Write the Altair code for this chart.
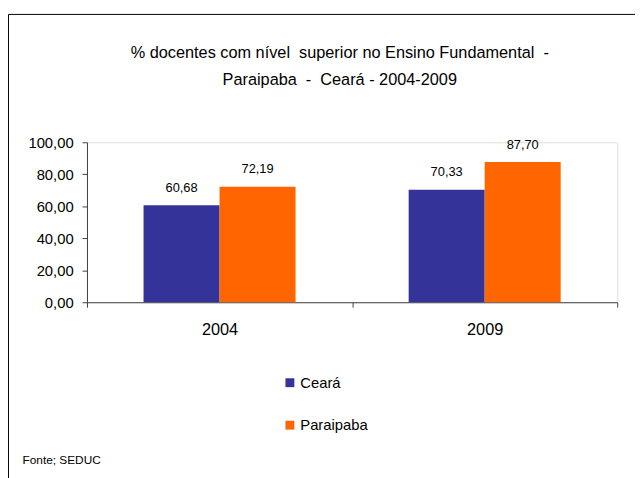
import altair as alt
import pandas as pd

# ---- data ----
years = ["2004", "2009"]
series = ["Ceará", "Paraipaba"]
ceara_values = [60.68, 70.33]
paraipaba_values = [72.19, 87.70]
colors = ["#333399", "#FF6600"]
y_ticks = [0, 20, 40, 60, 80, 100]
NB = "\u00a0"
title_lines = ["% docentes com nível" + NB + NB + "superior no Ensino Fundamental" + NB + NB + "-",
               "Paraipaba" + NB + NB + "-" + NB + NB + "Ceará - 2004-2009"]
source_note = "Fonte; SEDUC"

rows = []
for i, yr in enumerate(years):
    rows.append({"ano": yr, "serie": series[0], "valor": ceara_values[i]})
    rows.append({"ano": yr, "serie": series[1], "valor": paraipaba_values[i]})
df = pd.DataFrame(rows)

FONT = "Liberation Sans, Arial, sans-serif"
AXIS_COLOR = "#404040"

base = alt.Chart(df)

x_enc = alt.X("ano:N", title=None,
              scale=alt.Scale(paddingInner=0, paddingOuter=0),
              axis=alt.Axis(labelAngle=0, tickBand="extent", tickSize=5,
                            labelPadding=15, labelFont=FONT, labelFontSize=16.5,
                            labelColor="black", domainColor=AXIS_COLOR,
                            tickColor=AXIS_COLOR, grid=False))
xo_enc = alt.XOffset("serie:N", scale=alt.Scale(paddingInner=0, paddingOuter=0.744))
y_enc = alt.Y("valor:Q", title=None,
              scale=alt.Scale(domain=[0, 100], nice=False, zero=True),
              axis=alt.Axis(values=y_ticks, tickSize=5, labelPadding=9,
                            labelOverlap=False,
                            labelExpr="replace(format(datum.value, '.2f'), '.', ',')",
                            labelFont=FONT, labelFontSize=15, labelColor="black",
                            domainColor=AXIS_COLOR, tickColor=AXIS_COLOR, grid=False))

bars = base.mark_bar().encode(
    x=x_enc,
    xOffset=xo_enc,
    y=y_enc,
    color=alt.Color("serie:N", title=None,
                    scale=alt.Scale(domain=series, range=colors),
                    legend=alt.Legend(orient="none", legendX=198, legendY=236,
                                      direction="vertical", symbolType="square",
                                      symbolSize=81, symbolStrokeWidth=0,
                                      labelFont=FONT, labelFontSize=15,
                                      labelColor="black", labelOffset=3,
                                      rowPadding=27, padding=0)),
)

labels = base.transform_calculate(
    rotulo="replace(format(datum.valor, '.2f'), '.', ',')"
).mark_text(baseline="alphabetic", dy=-13.5, font=FONT, fontSize=13, color="black").encode(
    x=x_enc,
    xOffset=xo_enc,
    y=y_enc,
    text="rotulo:N",
)

one = alt.Chart(pd.DataFrame({"k": [0]}))

title1 = one.mark_text(text=title_lines[0], font=FONT, fontSize=16.5, align="center",
                       baseline="alphabetic", color="black").encode(
    x=alt.value(256), y=alt.value(-85))
title2 = one.mark_text(text=title_lines[1], font=FONT, fontSize=16.5, align="center",
                       baseline="alphabetic", color="black").encode(
    x=alt.value(256), y=alt.value(-58.5))
note = one.mark_text(text=source_note, font=FONT, fontSize=12, align="left",
                     baseline="middle", color="black").encode(
    x=alt.value(-65.3), y=alt.value(321.8))
border = one.mark_rect(fill="transparent", stroke="black", strokeWidth=1).encode(
    x=alt.value(-79.5), x2=alt.value(562), y=alt.value(-129.5), y2=alt.value(349))

chart = alt.layer(border, bars, labels, title1, title2, note).properties(
    width=537, height=162,
    autosize=alt.AutoSizeParams(type="none"),
    padding={"left": 80, "top": 133, "right": 18, "bottom": 175},
).configure_view(stroke=None).configure(background="white")

chart.save("out.html", embed_options={"renderer": "svg", "actions": False})
